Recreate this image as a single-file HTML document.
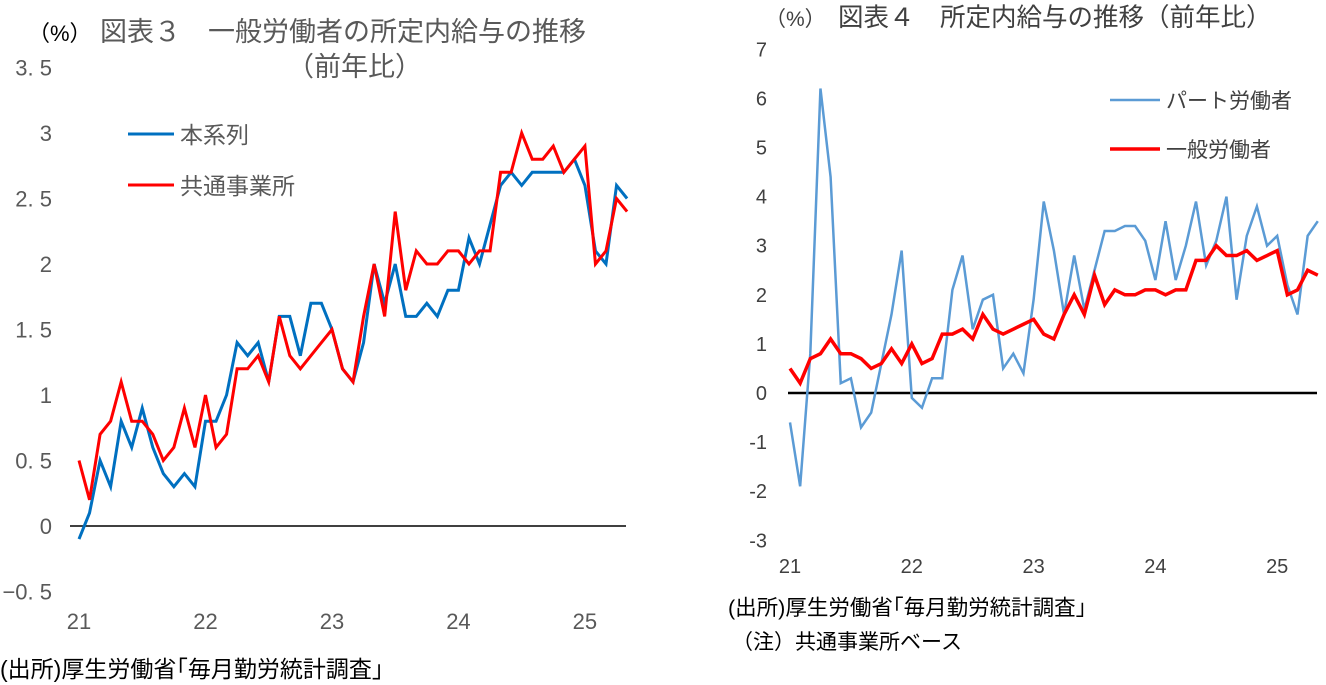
<!DOCTYPE html>
<html><head><meta charset="utf-8">
<style>
body{margin:0;background:#fff;width:1326px;height:685px;overflow:hidden}
svg{position:absolute;left:0;top:0}
text{font-family:"Liberation Sans","Noto Sans CJK JP",sans-serif}
</style></head>
<body>
<svg id="c" width="1326" height="685"></svg>
<script>
const ticks1 = ["3. 5","3","2. 5","2","1. 5","1","0. 5","0","−0. 5"];
const tickVals1 = [3.5,3,2.5,2,1.5,1,0.5,0,-0.5];
const ticks2 = ["7","6","5","4","3","2","1","0","-1","-2","-3"];
const tickVals2 = [7,6,5,4,3,2,1,0,-1,-2,-3];
const years = ["21","22","23","24","25"];
const honSeries = [-0.1,0.1,0.5,0.3,0.8,0.6,0.9,0.6,0.4,0.3,0.4,0.3,0.8,0.8,1.0,1.4,1.3,1.4,1.1,1.6,1.6,1.3,1.7,1.7,1.5,1.2,1.1,1.4,2.0,1.7,2.0,1.6,1.6,1.7,1.6,1.8,1.8,2.2,2.0,2.3,2.6,2.7,2.6,2.7,2.7,2.7,2.7,2.8,2.6,2.1,2.0,2.6,2.5];
const kyotsu = [0.5,0.2,0.7,0.8,1.1,0.8,0.8,0.7,0.5,0.6,0.9,0.6,1.0,0.6,0.7,1.2,1.2,1.3,1.1,1.6,1.3,1.2,1.3,1.4,1.5,1.2,1.1,1.6,2.0,1.6,2.4,1.8,2.1,2.0,2.0,2.1,2.1,2.0,2.1,2.1,2.7,2.7,3.0,2.8,2.8,2.9,2.7,2.8,2.9,2.0,2.1,2.5,2.4];
const part = [-0.6,-1.9,0.8,6.2,4.4,0.2,0.3,-0.7,-0.4,0.6,1.6,2.9,-0.1,-0.3,0.3,0.3,2.1,2.8,1.3,1.9,2.0,0.5,0.8,0.4,1.9,3.9,2.9,1.6,2.8,1.7,2.5,3.3,3.3,3.4,3.4,3.1,2.3,3.5,2.3,3.0,3.9,2.6,3.1,4.0,1.9,3.2,3.8,3.0,3.2,2.2,1.6,3.2,3.5];
const ippan = [0.5,0.2,0.7,0.8,1.1,0.8,0.8,0.7,0.5,0.6,0.9,0.6,1.0,0.6,0.7,1.2,1.2,1.3,1.1,1.6,1.3,1.2,1.3,1.4,1.5,1.2,1.1,1.6,2.0,1.6,2.4,1.8,2.1,2.0,2.0,2.1,2.1,2.0,2.1,2.1,2.7,2.7,3.0,2.8,2.8,2.9,2.7,2.8,2.9,2.0,2.1,2.5,2.4];

const NS="http://www.w3.org/2000/svg";
const svg=document.getElementById('c');
function el(t,a,txt){const e=document.createElementNS(NS,t);for(const k in a)e.setAttribute(k,a[k]);if(txt!==undefined)e.textContent=txt;svg.appendChild(e);return e;}

const x1=i=>79+i*10.54, y1=v=>526-v*131;
const x2=i=>790+i*10.15, y2=v=>393-v*49.1;

tickVals1.forEach((v,i)=>{const t=el('text',{x:52,y:y1(v)+8,'text-anchor':'end','font-size':22,fill:'#595959'},ticks1[i]);

});
years.forEach((s,i)=>{const t=el('text',{x:x1(i*12),y:629,'text-anchor':'middle','font-size':22,fill:'#595959'},s);

});
let a=el('line',{x1:70,x2:626,y1:y1(0),y2:y1(0),stroke:'#000','stroke-width':1.5});


function line(data,xf,yf,color,w,name){const p=el('polyline',{points:data.map((v,i)=>xf(i)+','+yf(v)).join(' '),fill:'none',stroke:color,'stroke-width':w,'stroke-linejoin':'miter'});

}
line(honSeries,x1,y1,'#0070C0',3,'series-honkeiretsu');
line(kyotsu,x1,y1,'#FF0000',3,'series-kyotsu');

tickVals2.forEach((v,i)=>{const t=el('text',{x:767,y:y2(v)+7,'text-anchor':'end','font-size':20,fill:'#404040'},ticks2[i]);

});
years.forEach((s,i)=>{const t=el('text',{x:x2(i*12),y:573,'text-anchor':'middle','font-size':20,fill:'#404040'},s);

});
a=el('line',{x1:788,x2:1317,y1:y2(0),y2:y2(0),stroke:'#000','stroke-width':2.5});


line(part,x2,y2,'#5B9BD5',2.5,'series-part');
line(ippan,x2,y2,'#FF0000',3.5,'series-ippan');
</script>
<svg width="1326" height="685" style="pointer-events:none">
 <g font-family="Liberation Sans, Noto Sans CJK JP, sans-serif">
  <text x="28" y="41" font-size="22" fill="#000">（%）</text>
  <text x="100" y="41" font-size="27" fill="#595959">図表３　一般労働者の所定内給与の推移</text>
  <text x="287" y="76" font-size="27" fill="#595959">（前年比）</text>
  <line x1="128" y1="134" x2="174" y2="134" stroke="#0070C0" stroke-width="3"/>
  <text x="180" y="143" font-size="23" fill="#595959">本系列</text>
  <line x1="128" y1="185" x2="174" y2="185" stroke="#FF0000" stroke-width="3"/>
  <text x="180" y="194" font-size="23" fill="#595959">共通事業所</text>
  <text x="0" y="677" font-size="23" fill="#000">(出所)厚生労働省｢毎月勤労統計調査｣</text>
  <text x="765" y="26" font-size="21" fill="#404040">（%）</text>
  <text x="838" y="26" font-size="25.5" fill="#404040">図表４　所定内給与の推移（前年比）</text>
  <line x1="1110" y1="100" x2="1160" y2="100" stroke="#5B9BD5" stroke-width="2.5"/>
  <text x="1166" y="108" font-size="21" fill="#404040">パート労働者</text>
  <line x1="1110" y1="149" x2="1160" y2="149" stroke="#FF0000" stroke-width="3.5"/>
  <text x="1166" y="157" font-size="21" fill="#404040">一般労働者</text>
  <text x="728" y="615" font-size="21.5" fill="#000">(出所)厚生労働省｢毎月勤労統計調査｣</text>
  <text x="732" y="649" font-size="21" fill="#000">（注）共通事業所ベース</text>
 </g>
</svg>
</body></html>
